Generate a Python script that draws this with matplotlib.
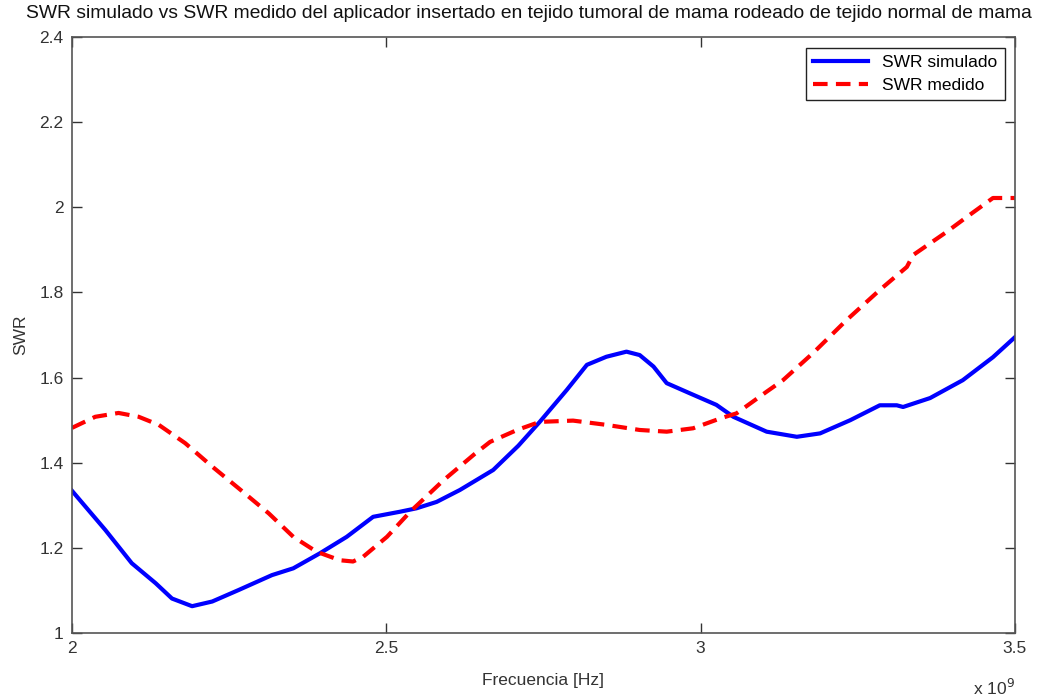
import numpy as np
import matplotlib.pyplot as plt

# SWR simulado (frecuencia en GHz)
f_sim = [2.000, 2.053, 2.095, 2.133, 2.159, 2.191, 2.223, 2.265, 2.318, 2.352, 2.394,
         2.437, 2.479, 2.522, 2.548, 2.580, 2.617, 2.670, 2.710, 2.744, 2.787, 2.819,
         2.850, 2.882, 2.903, 2.925, 2.946, 2.983, 3.025, 3.052, 3.105, 3.153, 3.190,
         3.238, 3.285, 3.312, 3.322, 3.365, 3.417, 3.465, 3.500]
swr_sim = [1.334, 1.242, 1.164, 1.117, 1.081, 1.063, 1.074, 1.101, 1.136, 1.152, 1.187,
           1.226, 1.273, 1.285, 1.293, 1.308, 1.336, 1.383, 1.440, 1.496, 1.571, 1.630,
           1.649, 1.661, 1.653, 1.626, 1.587, 1.563, 1.536, 1.508, 1.473, 1.461, 1.469,
           1.500, 1.535, 1.535, 1.531, 1.552, 1.594, 1.648, 1.695]

# SWR medido
f_med = [2.000, 2.037, 2.074, 2.106, 2.138, 2.180, 2.223, 2.265, 2.313, 2.352, 2.389,
         2.426, 2.447, 2.463, 2.501, 2.538, 2.591, 2.640, 2.665, 2.708, 2.744, 2.797,
         2.850, 2.903, 2.946, 2.988, 3.031, 3.057, 3.105, 3.131, 3.179, 3.232, 3.285,
         3.328, 3.338, 3.391, 3.423, 3.465, 3.500]
swr_med = [1.482, 1.508, 1.517, 1.508, 1.489, 1.446, 1.391, 1.340, 1.281, 1.226, 1.191,
           1.171, 1.168, 1.179, 1.226, 1.285, 1.359, 1.420, 1.449, 1.477, 1.496, 1.499,
           1.489, 1.477, 1.473, 1.481, 1.504, 1.516, 1.567, 1.594, 1.658, 1.735, 1.806,
           1.860, 1.888, 1.942, 1.977, 2.022, 2.022]

xticks = [2.0, 2.5, 3.0, 3.5]
xticklabels = ['2', '2.5', '3', '3.5']
yticks = [1.0, 1.2, 1.4, 1.6, 1.8, 2.0, 2.2, 2.4]
yticklabels = ['1', '1.2', '1.4', '1.6', '1.8', '2', '2.2', '2.4']

plt.rcParams['font.family'] = ['Liberation Sans', 'DejaVu Sans']

fig = plt.figure(figsize=(10.47, 7), dpi=100)
ax = fig.add_axes([0.0688, 0.0957, 0.9006, 0.8513])

ax.plot(np.array(f_sim) * 1e9, swr_sim, color='#0000ff', lw=3, label='SWR simulado',
        solid_joinstyle='round')
ax.plot(np.array(f_med) * 1e9, swr_med, color='#ff0000', lw=3, ls=(0, (3.5, 2)),
        label='SWR medido', dash_joinstyle='round')

ax.set_xlim(2e9, 3.5e9)
ax.set_ylim(1, 2.4)
ax.set_xticks([t * 1e9 for t in xticks])
ax.set_xticklabels(xticklabels)
ax.set_yticks(yticks)
ax.set_yticklabels(yticklabels)
ax.tick_params(direction='in', top=True, right=True, length=7, width=1,
               colors='#333333', labelsize=12.5, pad=6)
for s in ax.spines.values():
    s.set_color('#555555')
    s.set_linewidth(1.2)

ax.set_xlabel('Frecuencia [Hz]', fontsize=12.5, color='#333333', labelpad=12)
ax.set_ylabel('SWR', fontsize=12.5, color='#333333', labelpad=8)
fig.text(529 / 1047, 1 - 13 / 700,
         'SWR simulado vs SWR medido del aplicador insertado en tejido tumoral de mama '
         'rodeado de tejido normal de mama', fontsize=13.9, color='#111111',
         ha='center', va='center')
ax.text(1.0, -0.075, r'x 10$^9$', transform=ax.transAxes, ha='right', va='top',
        fontsize=12.5, color='#333333')

leg = ax.legend(loc='upper right', fontsize=12.5, fancybox=False, framealpha=1,
                edgecolor='#222222', handlelength=3.2, borderaxespad=0.6)
leg.get_frame().set_linewidth(1)

fig.savefig('out.png', dpi=100)
